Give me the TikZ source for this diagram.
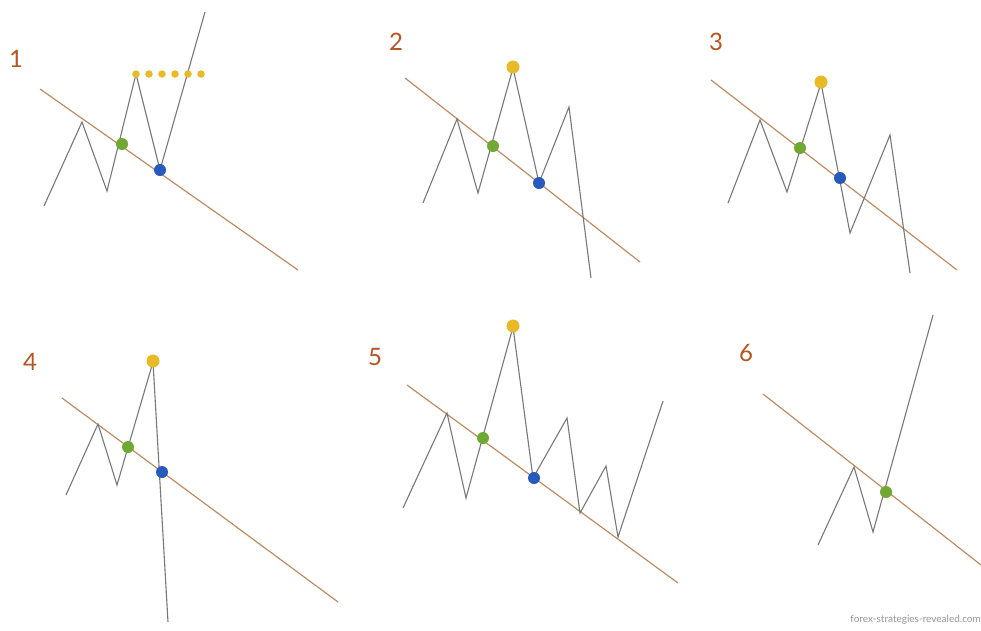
\documentclass[tikz,border=0pt]{standalone}
\usepackage{fontspec}
\setmainfont{Lato}
\definecolor{trendc}{RGB}{190,140,100}
\definecolor{zigc}{RGB}{120,120,120}
\definecolor{labc}{RGB}{180,85,35}
\definecolor{greenc}{RGB}{112,168,52}
\definecolor{bluec}{RGB}{40,90,190}
\definecolor{yellowc}{RGB}{232,186,40}
\definecolor{markc}{RGB}{150,150,150}
\begin{document}
\begin{tikzpicture}[x=1pt,y=-1pt,
  trend/.style={draw=trendc, line width=1.2pt},
  zig/.style={draw=zigc, line width=1.1pt, line join=miter},
  gdot/.style={circle, fill=greenc, inner sep=0pt, minimum size=12pt},
  bdot/.style={circle, fill=bluec, inner sep=0pt, minimum size=12pt},
  ydot/.style={circle, fill=yellowc, inner sep=0pt, minimum size=13pt},
  sdot/.style={circle, fill=yellowc, inner sep=0pt, minimum size=7.5pt},
  lab/.style={text=labc, font=\fontsize{24}{24}\selectfont, inner sep=0pt}]
\useasboundingbox[fill=white] (0,0) rectangle (981,630);

% ---------- Panel 1 ----------
\node[lab] (l1) at (16,59) {1};
\coordinate (t1a) at (40,89); \coordinate (t1b) at (298,270);
\draw[trend] (t1a) -- (t1b);
\coordinate (z1a) at (44,206); \coordinate (z1b) at (82,122);
\coordinate (z1c) at (107,191); \coordinate (z1d) at (136,74);
\coordinate (z1e) at (160,170); \coordinate (z1f) at (205,12);
\draw[zig] (z1a) -- (z1b) -- (z1c) -- (z1d) -- (z1e) -- (z1f);
\foreach \i in {0,...,5} { \node[sdot] (s1\i) at (136+13*\i,74) {}; }
\node[gdot] (g1) at (122,144) {};
\node[bdot] (b1) at (160,170) {};

% ---------- Panel 2 ----------
\node[lab] (l2) at (396,42) {2};
\coordinate (t2a) at (405,78); \coordinate (t2b) at (640,262);
\draw[trend] (t2a) -- (t2b);
\coordinate (z2a) at (423,203); \coordinate (z2b) at (457,119);
\coordinate (z2c) at (478,193); \coordinate (z2d) at (513,68);
\coordinate (z2e) at (539,183); \coordinate (z2f) at (569,107);
\coordinate (z2g) at (591,278);
\draw[zig] (z2a) -- (z2b) -- (z2c) -- (z2d) -- (z2e) -- (z2f) -- (z2g);
\node[ydot] (y2) at (513,67) {};
\node[gdot] (g2) at (493,146) {};
\node[bdot] (b2) at (539,183) {};

% ---------- Panel 3 ----------
\node[lab] (l3) at (716,42) {3};
\coordinate (t3a) at (711,80); \coordinate (t3b) at (957,270);
\draw[trend] (t3a) -- (t3b);
\coordinate (z3a) at (728,203); \coordinate (z3b) at (760,120);
\coordinate (z3c) at (787,192); \coordinate (z3d) at (821,83);
\coordinate (z3e) at (850,233); \coordinate (z3f) at (890,135);
\coordinate (z3g) at (910,273);
\draw[zig] (z3a) -- (z3b) -- (z3c) -- (z3d) -- (z3e) -- (z3f) -- (z3g);
\node[ydot] (y3) at (821,82) {};
\node[gdot] (g3) at (800,148) {};
\node[bdot] (b3) at (840,178) {};

% ---------- Panel 4 ----------
\node[lab] (l4) at (30,362) {4};
\coordinate (t4a) at (62,398); \coordinate (t4b) at (338,602);
\draw[trend] (t4a) -- (t4b);
\coordinate (z4a) at (66,495); \coordinate (z4b) at (98,424);
\coordinate (z4c) at (117,485); \coordinate (z4d) at (153,362);
\coordinate (z4e) at (168,622);
\draw[zig] (z4a) -- (z4b) -- (z4c) -- (z4d) -- (z4e);
\node[ydot] (y4) at (153,361) {};
\node[gdot] (g4) at (128,447) {};
\node[bdot] (b4) at (162,472) {};

% ---------- Panel 5 ----------
\node[lab] (l5) at (375,357) {5};
\coordinate (t5a) at (407,385); \coordinate (t5b) at (678,583);
\draw[trend] (t5a) -- (t5b);
\coordinate (z5a) at (403,508); \coordinate (z5b) at (447,413);
\coordinate (z5c) at (466,498); \coordinate (z5d) at (513,327);
\coordinate (z5e) at (533,478); \coordinate (z5f) at (567,418);
\coordinate (z5g) at (580,513); \coordinate (z5h) at (606,466);
\coordinate (z5i) at (618,537); \coordinate (z5j) at (663,401);
\draw[zig] (z5a) -- (z5b) -- (z5c) -- (z5d) -- (z5e) -- (z5f) -- (z5g) -- (z5h) -- (z5i) -- (z5j);
\node[ydot] (y5) at (513,326) {};
\node[gdot] (g5) at (483,438) {};
\node[bdot] (b5) at (534,478) {};

% ---------- Panel 6 ----------
\node[lab] (l6) at (746,353) {6};
\coordinate (t6a) at (763,394); \coordinate (t6b) at (981,565);
\draw[trend] (t6a) -- (t6b);
\coordinate (z6a) at (818,545); \coordinate (z6b) at (854,467);
\coordinate (z6c) at (873,532); \coordinate (z6d) at (933,315);
\draw[zig] (z6a) -- (z6b) -- (z6c) -- (z6d);
\node[gdot] (g6) at (886,492) {};

% ---------- watermark ----------
\node[text=markc, font=\fontsize{10}{10}\selectfont, inner sep=0pt, anchor=east] (wm) at (981,620) {forex-strategies-revealed.com};
\end{tikzpicture}
\end{document}
